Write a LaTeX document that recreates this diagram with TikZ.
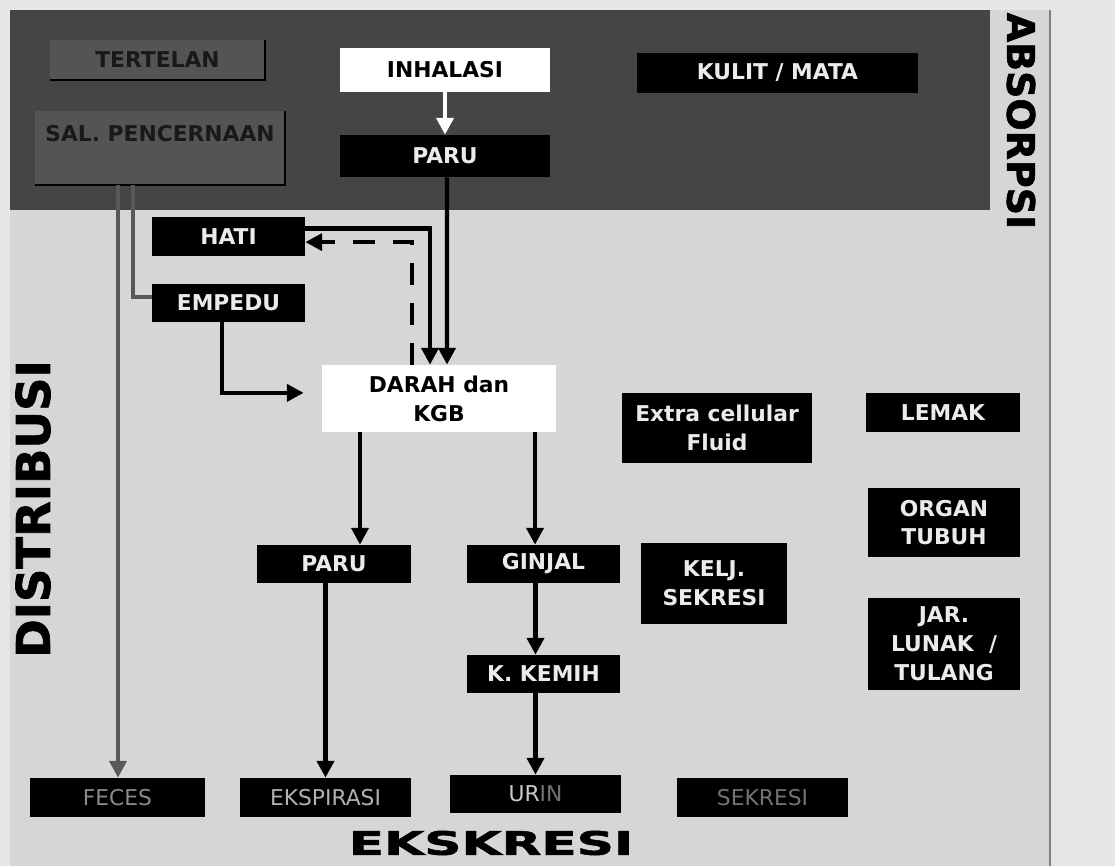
\documentclass[tikz,border=0pt]{standalone}
\usepackage{fontspec}
\setmainfont{DejaVu Sans}
\newfontfamily\heavyfont[FakeBold=1.6]{DejaVu Sans Bold}
\usepackage{graphicx}
\usetikzlibrary{arrows.meta}
\definecolor{bandgray}{HTML}{454545}
\definecolor{panelgray}{HTML}{D6D6D6}
\definecolor{stripgray}{HTML}{E6E6E6}
\definecolor{dimtext}{HTML}{8A8A8A}

\begin{document}
\begin{tikzpicture}[x=0.025cm, y=-0.025cm,
    darkbox/.style={rectangle, fill=black, text=white!92!black, align=center, inner sep=0pt, font=\bfseries\fontsize{15.5}{20.5}\selectfont},
    whitebox/.style={rectangle, fill=white, text=black, align=center, inner sep=0pt, font=\bfseries\fontsize{15.5}{20.5}\selectfont},
    shadebox/.style={rectangle, fill=bandgray!92!white, text=black!90, align=center, inner sep=0pt, font=\bfseries\fontsize{15.5}{20.5}\selectfont},
    outbox/.style={rectangle, fill=black, text=dimtext, inner sep=0pt, font=\fontsize{15.5}{20.5}\selectfont},
    arrow/.style={line width=3pt, -{Triangle[length=0.42cm, width=0.42cm]}},
    link/.style={line width=3pt},
    bigtitle/.style={text=black, inner sep=0pt}
]
    \useasboundingbox (0,0) rectangle (1115,866);

    % Background panels
    \fill[stripgray] (0,0) rectangle (1115,866);
    \fill[panelgray] (10,10) rectangle (1050,866);
    \fill[bandgray] (10,10) rectangle (990,210);
    \draw[gray, line width=1.2pt] (1050,10) -- (1050,866);

    % Absorption band
    \node[shadebox, minimum width=5.375cm, minimum height=1cm] (tertelan) at (157.5,60) {TERTELAN};
    \node[shadebox, minimum width=6.25cm, minimum height=1.825cm, text depth=0.75cm] (salcerna) at (160,148) {SAL. PENCERNAAN};
    \draw[black, line width=1.5pt] (tertelan.north east) -- (tertelan.south east) -- (tertelan.south west);
    \draw[black, line width=1.5pt] (salcerna.north east) -- (salcerna.south east) -- (salcerna.south west);
    \node[whitebox, minimum width=5.25cm, minimum height=1.1cm] (inhalasi) at (445,70) {INHALASI};
    \node[darkbox, minimum width=5.25cm, minimum height=1.05cm] (paruatas) at (445,156) {PARU};
    \node[darkbox, minimum width=7.025cm, minimum height=1cm] (kulit) at (777.5,73) {KULIT / MATA};

    % Distribution
    \node[darkbox, minimum width=3.825cm, minimum height=0.975cm] (hati) at (228.5,236.5) {HATI};
    \node[darkbox, minimum width=3.825cm, minimum height=0.95cm] (empedu) at (228.5,303) {EMPEDU};
    \node[whitebox, minimum width=5.85cm, minimum height=1.675cm] (darah) at (439,398.5) {DARAH dan\\KGB};
    \node[darkbox, minimum width=4.75cm, minimum height=1.75cm] (ecf) at (717,428) {Extra cellular\\Fluid};
    \node[darkbox, minimum width=3.85cm, minimum height=0.975cm] (lemak) at (943,412.5) {LEMAK};
    \node[darkbox, minimum width=3.8cm, minimum height=1.725cm] (organ) at (944,522.5) {ORGAN\\TUBUH};
    \node[darkbox, minimum width=3.8cm, minimum height=2.3cm] (jaringan) at (944,644) {JAR.\\LUNAK~~/\\TULANG};
    \node[darkbox, minimum width=3.85cm, minimum height=0.95cm] (parubawah) at (334,564) {PARU};
    \node[darkbox, minimum width=3.825cm, minimum height=0.95cm] (ginjal) at (543.5,564) {GINJAL};
    \node[darkbox, minimum width=3.65cm, minimum height=2.025cm] (kelj) at (714,583.5) {KELJ.\\SEKRESI};
    \node[darkbox, minimum width=3.825cm, minimum height=0.95cm] (kemih) at (543.5,674) {K. KEMIH};

    % Excretion
    \node[outbox, minimum width=4.375cm, minimum height=0.975cm] (feces) at (117.5,797.5) {FECES};
    \node[outbox, minimum width=4.275cm, minimum height=0.975cm, text=white!70!black] (ekspirasi) at (325.5,797.5) {EKSPIRASI};
    \node[outbox, minimum width=4.275cm, minimum height=0.95cm] (urin) at (535.5,794) {\textcolor{white!80!black}{UR}\textcolor{black!55}{IN}};
    \node[outbox, minimum width=4.275cm, minimum height=0.975cm, text=black!55] (sekresi) at (762.5,797.5) {SEKRESI};

    % Section titles
    \node[bigtitle, rotate=-90, font=\heavyfont\fontsize{27}{30}\selectfont] (absorpsi) at (1021,121) {ABSORPSI};
    \node[bigtitle, rotate=90, font=\heavyfont\fontsize{33}{36}\selectfont] (distribusi) at (33,509) {DISTRIBUSI};
    \node[bigtitle, font=\heavyfont\fontsize{23}{26}\selectfont] (ekskresi) at (491,843) {\scalebox{1.6}[1]{EKSKRESI}};

    % Connectors from the digestive tract
    \draw[arrow, black!65] ([xshift=-1.05cm]salcerna.south) -- ([xshift=-1.05cm]salcerna.south |- feces.north);
    \draw[link, black!65] ([xshift=-0.675cm]salcerna.south) |- ([yshift=0.15cm]empedu.west);

    % Connectors into the blood
    \draw[arrow, white] (inhalasi.south) -- (paruatas.north);
    \draw[arrow] ([xshift=0.05cm]paruatas.south) -- ([xshift=0.2cm]darah.north);
    \draw[arrow] ([yshift=0.2cm]hati.east) -| ([xshift=-0.225cm]darah.north);
    \draw[arrow, dash pattern=on 0.55cm off 0.45cm] ([xshift=-0.675cm]darah.north) |- ([yshift=-0.14cm]hati.east);
    \draw[arrow, shorten >=0.45cm] ([xshift=-0.16cm]empedu.south) |- ([yshift=0.14cm]darah.west);

    % Connectors out of the blood
    \draw[arrow] ([xshift=-1.975cm]darah.south) -- ([xshift=-1.975cm]darah.south |- parubawah.north);
    \draw[arrow] ([xshift=2.4cm]darah.south) -- ([xshift=2.4cm]darah.south |- ginjal.north);
    \draw[arrow] (ekspirasi.north |- parubawah.south) -- (ekspirasi.north);
    \draw[arrow] (urin.north |- ginjal.south) -- (urin.north |- kemih.north);
    \draw[arrow] (urin.north |- kemih.south) -- (urin.north);

\end{tikzpicture}
\end{document}
